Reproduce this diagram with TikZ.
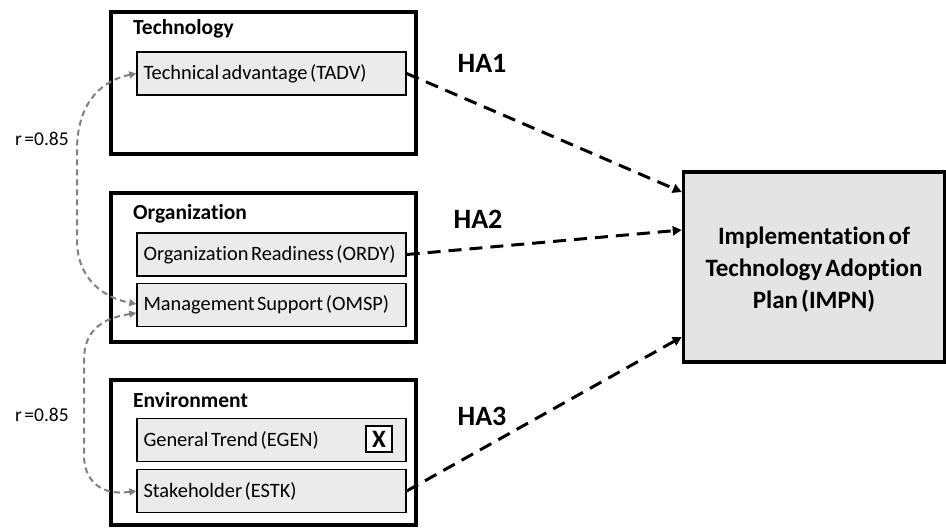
\documentclass[tikz,border=0pt]{standalone}
\usepackage{fontspec}
\setmainfont[Ligatures=NoCommon,WordSpace=0.55]{Carlito}
\usetikzlibrary{arrows.meta,calc}
\definecolor{boxfill}{HTML}{EBEBEB}
\definecolor{mainfill}{HTML}{E4E4E4}
\definecolor{corrgray}{HTML}{808080}
\begin{document}
\begin{tikzpicture}[x=1pt,y=-1pt,
  factor/.style={draw=black,fill=boxfill,line width=1.4pt,inner sep=0pt,
    minimum width=269pt,minimum height=43pt,font=\fontsize{20.4}{22}\selectfont,
    text width=256pt,align=flush left},
  grouptitle/.style={font=\bfseries\fontsize{21.5}{24}\selectfont,anchor=west,inner sep=0pt},
  hyp/.style={font=\bfseries\fontsize{28}{30}\selectfont,inner sep=0pt},
  effect/.style={draw=black,line width=3pt,dash pattern=on 13pt off 8pt,
    -{Triangle[length=9pt,width=9pt]}},
  corr/.style={draw=corrgray,line width=2pt,dash pattern=on 6pt off 4pt,
    {Triangle[length=7pt,width=7pt]}-{Triangle[length=7pt,width=7pt]}},
  rlab/.style={font=\fontsize{19.5}{21}\selectfont,inner sep=0pt}]
\useasboundingbox (0,0) rectangle (946,528);

% construct groups
\draw[line width=3.5pt] (111,12) rectangle (416,154);
\draw[line width=3.5pt] (111,193) rectangle (416,342);
\draw[line width=3.5pt] (111,380) rectangle (416,525);
\node[grouptitle] (ttech) at (133,29) {Technology};
\node[grouptitle] (torg) at (133,214) {Organization};
\node[grouptitle] (tenv) at (133,400) {Environment};

% factors
\node[factor] (tadv) at (271.5,73.5) {Technical advantage (TADV)};
\node[factor] (ordy) at (271.5,254.5) {Organization Readiness (ORDY)};
\node[factor] (omsp) at (271.5,305) {Management Support (OMSP)};
\node[factor] (egen) at (271.5,440) {General Trend (EGEN)};
\node[factor] (estk) at (271.5,491) {Stakeholder (ESTK)};
\node[draw=black,line width=1.4pt,fill=white,minimum width=26pt,minimum height=26pt,
  inner sep=0pt,font=\bfseries\fontsize{25}{26}\selectfont] (xmark) at (379,439) {X};

% outcome
\node[draw=black,line width=3.5pt,fill=mainfill,minimum width=261pt,minimum height=190pt] (impn) at (814,267) {};
\node[align=center,font=\bfseries\fontsize{25}{32}\selectfont] (impntext) at (814,270)
  {Implementation of\\Technology Adoption\\Plan (IMPN)};

% hypothesised effects
\draw[effect] (tadv.east) -- ($(impn.west)+(0,-75)$);
\draw[effect] (ordy.east) -- ($(impn.west)+(0,-37)$);
\draw[effect] (estk.east) -- ($(impn.west)+(0,70)$);
\node[hyp] (ha1) at (482,63) {HA1};
\node[hyp] (ha2) at (478,219) {HA2};
\node[hyp] (ha3) at (482,416) {HA3};

% correlations
\draw[corr] (tadv.west) .. controls (95,82) and (77,110) .. (77,150)
  -- (77,240) .. controls (77,280) and (105,298) .. ($(omsp.west)+(0,-1)$);
\draw[corr] ($(omsp.west)+(0,8)$) .. controls (105,318) and (84,328) .. (84,360)
  -- (84,455) .. controls (84,480) and (100,496) .. (estk.west);
\node[rlab] (r1) at (42,139) {r =0.85};
\node[rlab] (r2) at (42,415) {r =0.85};
\end{tikzpicture}
\end{document}
